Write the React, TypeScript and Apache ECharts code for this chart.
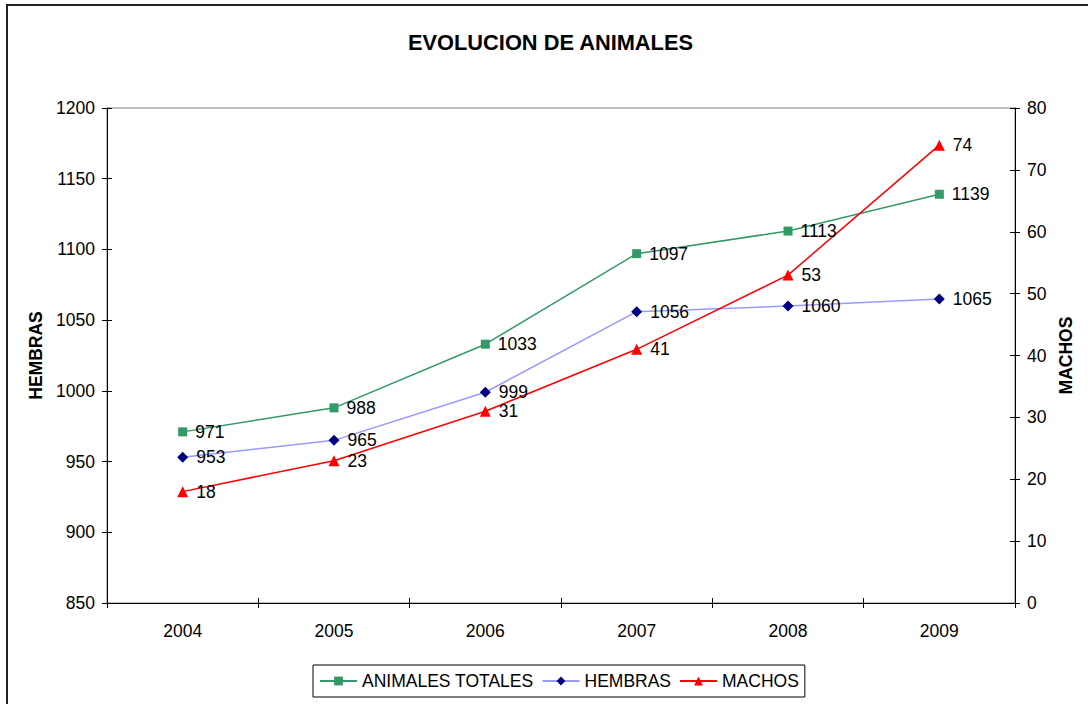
import React, { useEffect, useRef } from "react";
import * as echarts from "echarts";

const years = ["2004", "2005", "2006", "2007", "2008", "2009"];
const totales = [971, 988, 1033, 1097, 1113, 1139];
const hembras = [953, 965, 999, 1056, 1060, 1065];
const machos = [18, 23, 31, 41, 53, 74];

const FONT = "Liberation Sans, Arial, sans-serif";
const FS = 17.5;

export default function App() {
  const ref = useRef<HTMLDivElement>(null);
  useEffect(() => {
    if (!ref.current) return;
    const chart = echarts.init(ref.current, null, { renderer: "svg" });
    const label = {
      show: true,
      position: "right",
      distance: 8,
      color: "#000",
      fontSize: FS,
      fontFamily: FONT,
    };
    const plain = (v: number) => String(v);
    chart.setOption({
      animation: false,
      backgroundColor: "#fff",
      textStyle: { fontFamily: FONT },
      title: {
        text: "EVOLUCION DE ANIMALES",
        left: 408,
        top: 31,
        padding: 0,
        textStyle: { fontSize: 21.8, fontWeight: "bold", color: "#000", fontFamily: FONT },
      },
      graphic: [
        {
          type: "rect",
          shape: { x: 7, y: 5, width: 1200, height: 800 },
          style: { fill: "none", stroke: "#222", lineWidth: 2 },
          silent: true,
        },
      ],
      legend: {
        left: 313,
        top: 665,
        padding: [7, 6, 7, 6],
        itemGap: 8,
        itemWidth: 37,
        itemHeight: 11,
        borderColor: "#000",
        borderWidth: 1,
        textStyle: { fontSize: FS, color: "#000", fontFamily: FONT },
        data: ["ANIMALES TOTALES", "HEMBRAS", "MACHOS"],
      },
      grid: {
        left: 107,
        right: 73,
        top: 108,
        bottom: 101,
        show: true,
        borderColor: "#808080",
        borderWidth: 1,
      },
      xAxis: [
        {
          type: "category",
          data: years,
          boundaryGap: true,
          axisLine: { lineStyle: { color: "#000", width: 1 } },
          axisTick: { show: true, length: 5, lineStyle: { color: "#000" } },
          axisLabel: { color: "#000", fontSize: FS, margin: 19, fontFamily: FONT },
        },
        {
          type: "category",
          data: years,
          position: "bottom",
          boundaryGap: true,
          axisLine: { show: false },
          axisTick: { show: true, inside: true, length: 5, lineStyle: { color: "#000" } },
          axisLabel: { show: false },
        },
      ],
      yAxis: [
        {
          type: "value",
          min: 850,
          max: 1200,
          interval: 50,
          name: "HEMBRAS",
          nameLocation: "middle",
          nameRotate: 90,
          nameGap: 61,
          nameTextStyle: { fontSize: FS, fontWeight: "bold", color: "#000", fontFamily: FONT },
          axisLine: { show: true, lineStyle: { color: "#000" } },
          axisTick: { show: true, length: 5, lineStyle: { color: "#000" } },
          axisLabel: { color: "#000", fontSize: FS, margin: 12, fontFamily: FONT, formatter: plain },
          splitLine: { show: false },
        },
        {
          type: "value",
          min: 0,
          max: 80,
          interval: 10,
          position: "right",
          name: "MACHOS",
          nameLocation: "middle",
          nameRotate: 90,
          nameGap: 41,
          nameTextStyle: { fontSize: FS, fontWeight: "bold", color: "#000", fontFamily: FONT },
          axisLine: { show: true, lineStyle: { color: "#000" } },
          axisTick: { show: true, length: 5, lineStyle: { color: "#000" } },
          axisLabel: { color: "#000", fontSize: FS, margin: 12, fontFamily: FONT, formatter: plain },
          splitLine: { show: false },
        },
        {
          type: "value",
          min: 850,
          max: 1200,
          interval: 50,
          position: "left",
          axisLine: { show: false },
          axisTick: { show: true, inside: true, length: 5, lineStyle: { color: "#000" } },
          axisLabel: { show: false },
          splitLine: { show: false },
        },
        {
          type: "value",
          min: 0,
          max: 80,
          interval: 10,
          position: "right",
          axisLine: { show: false },
          axisTick: { show: true, inside: true, length: 5, lineStyle: { color: "#000" } },
          axisLabel: { show: false },
          splitLine: { show: false },
        },
      ],
      series: [
        {
          name: "ANIMALES TOTALES",
          type: "line",
          data: totales,
          yAxisIndex: 0,
          symbol: "rect",
          symbolSize: 9,
          itemStyle: { color: "#339966" },
          lineStyle: { color: "#339966", width: 1.5 },
          label,
        },
        {
          name: "HEMBRAS",
          type: "line",
          data: hembras,
          yAxisIndex: 0,
          symbol: "diamond",
          symbolSize: 11,
          itemStyle: { color: "#000080" },
          lineStyle: { color: "#9999FF", width: 1.5 },
          label,
        },
        {
          name: "MACHOS",
          type: "line",
          data: machos,
          yAxisIndex: 1,
          symbol: "triangle",
          symbolSize: 11,
          itemStyle: { color: "#FF0000" },
          lineStyle: { color: "#FF0000", width: 1.5 },
          label,
        },
      ],
    });
    return () => chart.dispose();
  }, []);
  return (
    <div
      ref={ref}
      style={{ position: "fixed", left: 0, top: 0, width: 1088, height: 704 }}
    />
  );
}
